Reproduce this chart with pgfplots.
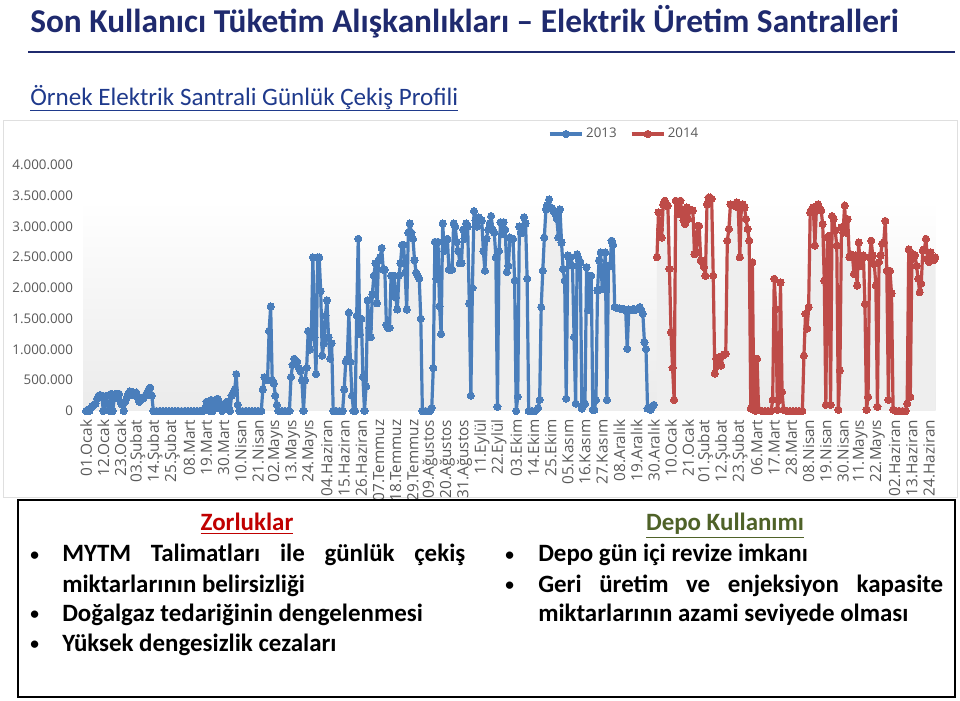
\documentclass[border=0pt]{standalone}
\usepackage{pgfplots}
\pgfplotsset{compat=1.18}
\usepackage{pgfplotstable}
\usepackage{fontspec}
\setmainfont{Carlito}
\newfontfamily\tickfont{Open Sans}
\definecolor{navy}{HTML}{1F2A6E}
\definecolor{subblue}{HTML}{1F3A8C}
\definecolor{cblue}{HTML}{4A7EBB}
\definecolor{cred}{HTML}{BE4B48}
\definecolor{zred}{HTML}{C00000}
\definecolor{dgreen}{HTML}{4F6228}
\definecolor{tickgray}{HTML}{595959}

\pgfplotstableread[row sep=\\]{
d v\\
0 0\\1 0.02\\2 0\\3 0.05\\4 0.08\\5 0.1\\6 0.12\\7 0.2\\8 0.25\\9 0.26\\
10 0.25\\11 0\\12 0.22\\13 0.25\\14 0.1\\15 0\\16 0.28\\17 0\\18 0.2\\19 0.28\\
20 0.22\\21 0.28\\22 0.15\\23 0.1\\24 0\\25 0.15\\26 0.22\\27 0.28\\28 0.32\\29 0.3\\
30 0.3\\31 0.25\\32 0.3\\33 0.22\\34 0.15\\35 0.18\\36 0.2\\37 0.22\\38 0.25\\39 0.3\\
40 0.35\\41 0.38\\42 0.25\\43 0\\45 0\\47 0\\49 0\\51 0\\53 0\\55 0\\57 0\\59 0\\61 0\\63 0\\65 0\\67 0\\69 0\\71 0\\73 0\\
75 0\\76 0.05\\77 0.15\\78 0.08\\79 0\\80 0.18\\81 0\\82 0.1\\83 0.05\\84 0.2\\85 0.15\\86 0.1\\87 0\\88 0.05\\89 0.12\\90 0.15\\91 0.05\\92 0\\93 0.25\\94 0.3\\95 0.35\\96 0.6\\97 0.1\\98 0\\
100 0\\102 0\\104 0\\106 0\\108 0\\110 0\\112 0\\
113 0.35\\114 0.55\\115 0.5\\116 0.5\\117 1.3\\118 1.7\\119 0.5\\120 0.45\\121 0.25\\122 0.1\\123 0\\125 0\\127 0\\129 0\\130 0\\
131 0.55\\132 0.75\\133 0.85\\134 0.8\\135 0.8\\136 0.7\\137 0.65\\138 0.5\\139 0\\140 0.5\\141 0.7\\142 1.3\\143 1.0\\144 1.2\\145 2.5\\146 1.2\\147 0.6\\148 2.5\\149 2.5\\150 1.95\\151 0.9\\152 1.1\\153 1.55\\154 1.8\\155 1.2\\156 0.85\\157 1.1\\158 0\\160 0\\162 0\\164 0\\
165 0.35\\166 0.8\\167 0.85\\168 1.6\\169 0.8\\170 0.25\\171 0\\172 0\\173 1.55\\174 2.8\\175 1.25\\176 1.5\\177 0.55\\178 0\\179 0.4\\180 1.8\\181 1.35\\182 1.2\\183 1.9\\184 2.2\\185 2.4\\186 1.75\\187 2.45\\188 2.5\\189 2.65\\190 2.3\\191 2.3\\192 1.4\\193 1.35\\194 1.35\\195 2.2\\196 1.9\\197 2.2\\198 1.85\\199 1.65\\200 2.2\\201 2.4\\202 2.7\\203 2.7\\204 2.25\\205 1.65\\206 2.9\\207 3.05\\208 2.9\\209 2.8\\210 2.45\\211 2.25\\212 2.2\\213 2.15\\214 1.5\\215 0\\217 0\\219 0\\220 0\\221 0.05\\222 0.7\\223 2.75\\224 2.15\\225 2.75\\226 1.7\\227 1.25\\228 3.05\\229 2.6\\230 2.75\\231 2.8\\232 2.3\\233 2.3\\234 2.3\\235 3.05\\236 3.0\\237 2.75\\238 2.6\\239 2.4\\240 2.4\\241 2.95\\242 2.8\\243 3.05\\244 3.0\\245 1.75\\246 0.25\\247 2.0\\248 3.25\\249 3.1\\250 3.0\\251 3.15\\
252 3.12\\253 3.1\\254 2.6\\255 2.28\\256 2.8\\257 2.95\\258 3.05\\259 3.17\\260 2.95\\261 2.9\\262 2.5\\263 0.07\\264 2.6\\265 3.07\\266 2.88\\267 3.07\\268 2.95\\269 2.26\\270 2.36\\271 2.82\\272 2.8\\273 2.8\\274 2.12\\275 0\\276 0.23\\277 3.0\\278 2.9\\279 2.9\\280 3.15\\281 3.05\\282 2.15\\283 0\\285 0\\287 0\\289 0.05\\290 0.18\\291 1.69\\292 2.28\\293 2.82\\294 3.28\\295 3.35\\296 3.44\\297 3.3\\298 3.3\\299 3.25\\300 3.2\\301 3.12\\302 2.82\\303 3.28\\304 2.74\\305 2.31\\306 2.12\\307 0.2\\308 2.53\\309 2.47\\310 2.5\\311 2.36\\312 1.2\\313 0.12\\314 2.55\\315 2.47\\316 2.42\\317 0.04\\318 0.1\\319 0.12\\320 2.34\\321 1.64\\322 2.2\\323 2.2\\324 0.02\\325 0.02\\326 0.18\\327 1.96\\328 2.45\\329 2.58\\330 1.98\\331 2.2\\332 2.58\\333 0.18\\334 2.36\\335 2.36\\336 2.77\\337 2.7\\338 1.69\\339 1.68\\340 1.67\\341 1.67\\342 1.66\\343 1.66\\344 1.65\\345 1.64\\346 1.01\\347 1.65\\348 1.64\\349 1.64\\350 1.66\\351 1.64\\352 1.65\\353 1.66\\354 1.69\\355 1.64\\356 1.58\\357 1.12\\358 1.01\\359 0.04\\360 0.04\\361 0.02\\362 0.07\\363 0.1\\
}\blueA

\pgfplotstableread[row sep=\\]{
d v\\
365 2.5\\366 3.23\\367 2.96\\368 2.82\\369 3.36\\370 3.42\\371 3.34\\372 3.34\\373 2.31\\374 1.28\\375 0.7\\376 0.18\\377 3.42\\378 3.39\\379 3.2\\380 3.42\\381 3.23\\382 3.1\\383 3.04\\384 3.31\\385 3.12\\386 3.28\\387 3.27\\388 3.26\\389 2.55\\390 2.58\\391 3.01\\392 3.01\\393 2.45\\394 2.42\\395 2.34\\396 2.2\\397 3.36\\398 3.47\\399 3.47\\400 3.45\\401 2.2\\402 0.61\\403 0.85\\404 0.74\\405 0.88\\406 0.74\\407 0.9\\408 0.92\\409 0.93\\410 2.77\\411 2.96\\412 3.36\\413 3.35\\414 3.34\\415 3.34\\416 3.39\\417 3.31\\418 2.5\\419 3.34\\420 3.36\\421 3.31\\422 3.12\\423 2.96\\424 2.77\\425 0.04\\426 2.42\\427 0.04\\428 0\\429 0.85\\430 0.02\\432 0\\434 0\\436 0\\438 0\\439 0.18\\440 2.15\\441 1.66\\442 0.02\\443 0.18\\444 2.09\\445 0.31\\446 0.02\\448 0\\450 0\\452 0\\454 0\\456 0\\458 0\\459 0.9\\460 1.58\\461 1.34\\462 1.69\\463 3.23\\464 3.28\\465 3.31\\466 2.69\\467 3.31\\468 3.36\\469 3.28\\470 3.26\\471 3.04\\472 2.12\\473 0.1\\474 2.82\\475 2.85\\476 0.1\\477 3.17\\478 3.12\\479 2.93\\480 2.69\\481 0.02\\482 0.66\\483 2.99\\484 2.9\\485 3.34\\486 2.9\\487 3.12\\488 2.5\\489 2.55\\490 2.53\\491 2.23\\492 2.53\\493 2.04\\494 2.74\\495 2.36\\496 2.47\\497 2.53\\498 1.74\\499 0.02\\500 0.23\\501 2.5\\502 2.77\\503 2.53\\504 2.39\\505 2.04\\506 0.07\\507 2.42\\508 2.53\\509 2.72\\510 2.74\\511 3.09\\512 2.28\\513 0.18\\514 2.28\\515 1.91\\516 0.02\\518 0\\520 0\\522 0\\524 0\\525 0.12\\526 2.63\\527 0.23\\528 2.47\\529 2.55\\530 2.53\\531 2.36\\532 2.15\\533 1.93\\534 2.07\\535 2.61\\536 2.63\\537 2.8\\538 2.47\\539 2.42\\540 2.58\\541 2.5\\542 2.45\\543 2.5\\
}\redA

\begin{document}
\begin{tikzpicture}[x=0.75pt,y=0.75pt]
\path[use as bounding box, fill=white] (0,0) rectangle (960,700);
\coordinate (axorig) at (83,289);
% title
\node[anchor=base west, inner sep=0, text=navy, font=\fontsize{25}{30}\selectfont\bfseries] at (30,667) {Son Kullanıcı Tüketim Alışkanlıkları – Elektrik Üretim Santralleri};
\draw[navy, line width=2.2pt] (28,648) -- (955,648);
\node[anchor=base west, inner sep=0, text=subblue, font=\fontsize{18.8}{22}\selectfont] at (30,594) {Örnek Elektrik Santrali Günlük Çekiş Profili};
\draw[subblue, line width=0.9pt] (30,589.5) -- (458,589.5);
% chart panel
\draw[gray!25, line width=0.6pt] (3,580) rectangle (957,203);

\begin{axis}[
  at={(axorig)}, anchor=south west, scale only axis,
  width=642.75pt, height=184.5pt,
  xmin=-2, xmax=546, ymin=0, ymax=4,
  axis line style={draw=none}, major tick length=0pt,
  clip=false,
  xtick={0,11,...,539},
  xticklabels={01.Ocak,12.Ocak,23.Ocak,03.Şubat,14.Şubat,25.Şubat,08.Mart,19.Mart,30.Mart,10.Nisan,21.Nisan,02.Mayıs,13.Mayıs,24.Mayıs,04.Haziran,15.Haziran,26.Haziran,07.Temmuz,18.Temmuz,29.Temmuz,09.Ağustos,20.Ağustos,31.Ağustos,11.Eylül,22.Eylül,03.Ekim,14.Ekim,25.Ekim,05.Kasım,16.Kasım,27.Kasım,08.Aralık,19.Aralık,30.Aralık,10.Ocak,21.Ocak,01.Şubat,12.Şubat,23.Şubat,06.Mart,17.Mart,28.Mart,08.Nisan,19.Nisan,30.Nisan,11.Mayıs,22.Mayıs,02.Haziran,13.Haziran,24.Haziran},
  ytick={0,0.5,1,1.5,2,2.5,3,3.5,4},
  yticklabels={0,500.000,1.000.000,1.500.000,2.000.000,2.500.000,3.000.000,3.500.000,4.000.000},
  xticklabel shift=3pt,
  x tick label style={rotate=90, anchor=east, font=\fontsize{11.5}{13}\selectfont\tickfont, text=tickgray},
  y tick label style={font=\fontsize{10}{12}\selectfont\tickfont, text=tickgray, xshift=-4pt},
  legend style={draw=none, fill=none, at={(0.632,1.126)}, anchor=center, legend columns=2,
    font=\fontsize{10}{12}\selectfont\tickfont, text=tickgray,
    /tikz/every even column/.append style={column sep=8pt}},
  legend image code/.code={\draw[mark repeat=2,mark phase=2] plot coordinates {(0pt,0pt) (12pt,0pt) (24pt,0pt)};},
]
\path[top color=white, bottom color=gray!16] (axis cs:-2,0) rectangle (axis cs:543,3.43);
\addplot[fill=gray!13, draw=none, forget plot] table[x=d,y=v]{\blueA} \closedcycle;
\addplot[fill=gray!13, draw=none, forget plot] table[x=d,y=v]{\redA} \closedcycle;
\addplot[cblue, line width=2.4pt, line join=round, mark=*, mark size=2.7pt, mark options={fill=cblue, draw=cblue, line width=0pt}] table[x=d,y=v]{\blueA};
\addplot[cred, line width=2.4pt, line join=round, mark=*, mark size=2.7pt, mark options={fill=cred, draw=cred, line width=0pt}] table[x=d,y=v]{\redA};
\legend{2013,2014}
\end{axis}

% bottom box
\draw[black, line width=1.5pt] (18,200) rectangle (955,3);
\node[anchor=base, inner sep=0, text=zred, font=\fontsize{18.7}{22}\selectfont\bfseries] at (247,169) {\underline{Zorluklar}};
\node[anchor=base, inner sep=0, text=dgreen, font=\fontsize{18.7}{22}\selectfont\bfseries] at (725,169) {\underline{Depo Kullanımı}};
\begin{scope}[every node/.style={anchor=base west, inner sep=0, font=\fontsize{18.7}{22}\selectfont\bfseries}]
\node[font=\fontsize{13}{15}\selectfont\bfseries] at (30,140) {•};
\node at (62,138) {\makebox[302.25pt][s]{MYTM Talimatları ile günlük çekiş}};
\node at (62,108) {miktarlarının belirsizliği};
\node[font=\fontsize{13}{15}\selectfont\bfseries] at (30,81) {•};
\node at (62,79) {Doğalgaz tedariğinin dengelenmesi};
\node[font=\fontsize{13}{15}\selectfont\bfseries] at (30,51) {•};
\node at (62,49) {Yüksek dengesizlik cezaları};
\node[font=\fontsize{13}{15}\selectfont\bfseries] at (505,140) {•};
\node at (538,138) {Depo gün içi revize imkanı};
\node[font=\fontsize{13}{15}\selectfont\bfseries] at (505,110) {•};
\node at (538,108) {\makebox[303.75pt][s]{Geri üretim ve enjeksiyon kapasite}};
\node at (538,79) {miktarlarının azami seviyede olması};
\end{scope}
\end{tikzpicture}
\end{document}
